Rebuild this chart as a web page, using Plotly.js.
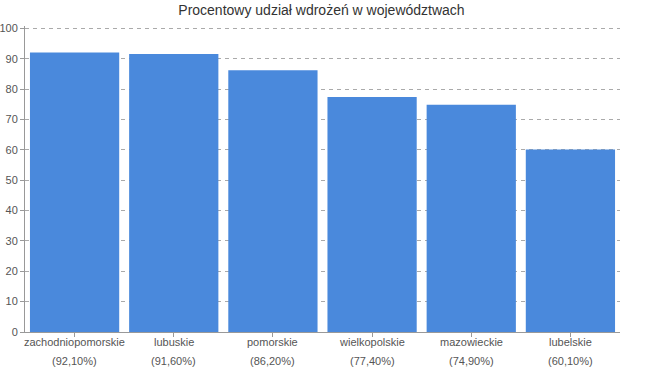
<!DOCTYPE html>
<html><head><meta charset="utf-8">
<script src="https://cdn.plot.ly/plotly-3.0.1.min.js"></script>
<style>html,body{margin:0;padding:0;background:#fff}</style>
</head><body>
<div id="chart" style="width:650px;height:370px"></div>
<script>
const categories = ["zachodniopomorskie","lubuskie","pomorskie","wielkopolskie","mazowieckie","lubelskie"];
const values = [92.1, 91.6, 86.2, 77.4, 74.9, 60.1];
const percentLabels = ["(92,10%)","(91,60%)","(86,20%)","(77,40%)","(74,90%)","(60,10%)"];
const yTicks = [0,10,20,30,40,50,60,70,80,90,100];

const FONT = 'Liberation Sans, Arial, sans-serif';
const annotations = [];
categories.forEach((c,i)=>{
  annotations.push({x: c, y: 0, xref:'x', yref:'paper', yanchor:'top', yshift:-2,
    text: c, showarrow:false, font:{family:FONT, size:11, color:'#555'}});
  annotations.push({x: c, y: 0, xref:'x', yref:'paper', yanchor:'top', yshift:-21,
    text: percentLabels[i], showarrow:false, font:{family:FONT, size:11, color:'#555'}});
});

Plotly.newPlot('chart', [{
  type:'bar', x: categories, y: values,
  marker:{color:'#4A89DC'}, hoverinfo:'none'
}], {
  width:650, height:370,
  margin:{l:25, r:30, t:26, b:38},
  paper_bgcolor:'#fff', plot_bgcolor:'#fff',
  bargap:0.1,
  title:{text:'Procentowy udział wdrożeń w województwach', x:0.4946, xanchor:'center', y:0.985, yanchor:'top',
    font:{family:FONT, size:14, color:'#333'}},
  font:{family:FONT, size:11, color:'#555'},
  xaxis:{type:'category', range:[-0.5, categories.length-0.5], showline:true, linecolor:'#999', linewidth:1, ticks:'outside', ticklen:4, tickcolor:'#999',
    showgrid:false, showticklabels:false, fixedrange:true, automargin:false},
  yaxis:{range:[0,100.8], tickvals:yTicks, showline:true, linecolor:'#999', linewidth:1, ticks:'outside', ticklen:4, tickcolor:'#999',
    showgrid:true, gridcolor:'#aaa', griddash:'4px,4px', gridwidth:1, zeroline:false, automargin:false,
    tickfont:{family:FONT, size:11, color:'#555'}, fixedrange:true},
  annotations: annotations,
  showlegend:false
}, {displayModeBar:false, staticPlot:true});
</script>
</body></html>
